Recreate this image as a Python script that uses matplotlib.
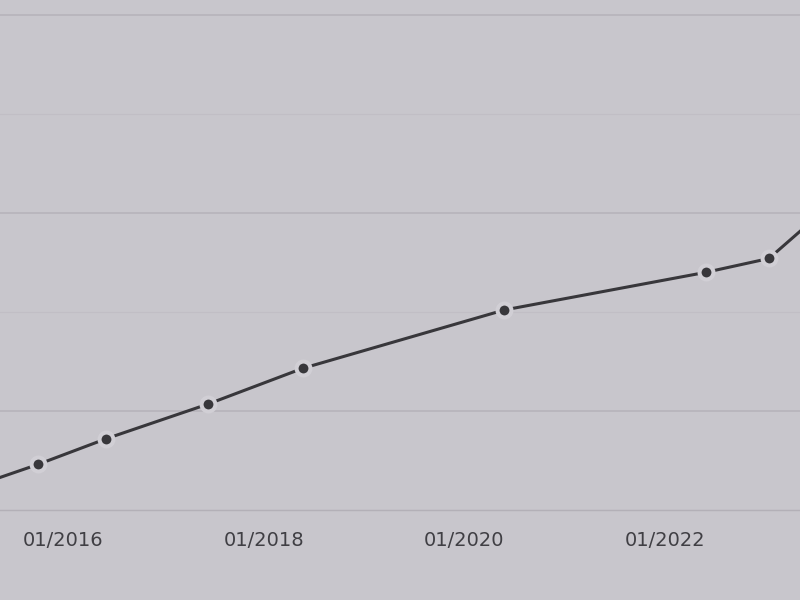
import matplotlib
matplotlib.use("Agg")
import matplotlib.pyplot as plt
import matplotlib.dates as mdates
from matplotlib.ticker import MultipleLocator
from datetime import datetime

# Data (y units arbitrary as no y labels are visible)
dates = ["2015-01-01", "2015-10-01", "2016-06-06", "2017-06-12", "2018-05-22",
         "2020-05-26", "2022-05-30", "2023-01-15", "2023-08-01"]
values = [12.0, 14.6, 17.2, 20.7, 24.3, 30.2, 34.0, 35.4, 40.2]
tick_dates = ["2016-01-01", "2018-01-01", "2020-01-01", "2022-01-01"]
tick_labels = ["01/2016", "01/2018", "01/2020", "01/2022"]

x = [datetime.strptime(d, "%Y-%m-%d") for d in dates]
tx = [datetime.strptime(d, "%Y-%m-%d") for d in tick_dates]

bg = "#c8c6cc"
fig = plt.figure(figsize=(8, 6), dpi=100, facecolor=bg)
ax = fig.add_axes([0, 90 / 600, 1, 510 / 600])
ax.set_facecolor(bg)

ax.set_xlim(datetime(2015, 5, 16), datetime(2023, 5, 8))
ax.set_ylim(10, 61.5)

ax.yaxis.set_major_locator(MultipleLocator(20))
ax.yaxis.set_minor_locator(MultipleLocator(10))
ax.grid(axis="y", which="major", color="#b5b2b9", linewidth=1.1)
ax.grid(axis="y", which="minor", color="#c1bec5", linewidth=0.8)
ax.set_axisbelow(True)

ax.plot(x, values, color="#38373b", linewidth=2.2, marker="o",
        markersize=10, markerfacecolor="#38373b", markeredgecolor="#d1cfd5",
        markeredgewidth=2.9, zorder=3, clip_on=True)

ax.set_xticks(tx)
ax.set_xticklabels(tick_labels, fontsize=14, color="#403f44")
ax.tick_params(axis="x", length=0, pad=15)
ax.tick_params(axis="y", which="both", length=0, labelleft=False)

for s in ["top", "left", "right"]:
    ax.spines[s].set_visible(False)
ax.spines["bottom"].set_color("#b3b0b7")
ax.spines["bottom"].set_linewidth(1.0)

fig.savefig("out.png", dpi=100, facecolor=bg)
